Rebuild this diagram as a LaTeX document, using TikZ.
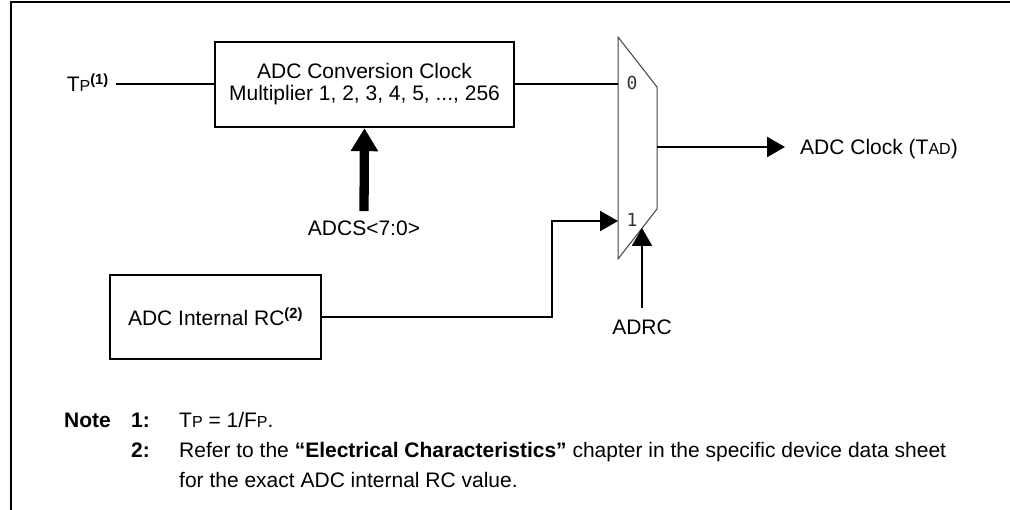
\documentclass[tikz,border=0pt]{standalone}
\usepackage{fontspec}
\setmainfont{Liberation Sans}
\newfontfamily\muxfont{DejaVu Sans Mono}
\usetikzlibrary{arrows.meta, positioning, calc}

\newcommand{\lowcap}[1]{{\fontsize{16}{16}\selectfont #1}}
\newcommand{\notemark}[1]{\textsuperscript{\bfseries(#1)}}

\tikzset{
  blockbox/.style={draw, line width=2.4pt, align=center, inner sep=0pt},
  sigline/.style={line width=2.5pt},
  sigarrow/.style={sigline, -{Triangle[length=18pt, width=20pt]}},
  busarrow/.style={line width=9.3pt, -{Triangle[length=23pt, width=26pt]}},
  notetext/.style={anchor=base west, inner sep=0pt},
  notekey/.style={notetext, font=\fontsize{21}{24}\selectfont\bfseries},
}

\begin{document}
\begin{tikzpicture}[x=1pt, y=-1pt, font=\fontsize{21}{22}\selectfont]
  \useasboundingbox (0,0) rectangle (1010,510);
  % frame
  \draw[line width=2.2pt] (11,510) -- (11,2) -- (1010,2);

  % clock multiplier and its inputs
  \node[blockbox, minimum width=299pt, minimum height=85pt] (mult) at (364.5,84.5)
    {ADC Conversion Clock\\Multiplier 1, 2, 3, 4, 5, ..., 256};
  \node[anchor=base east, inner sep=0pt] (tp) at (109,92) {T\lowcap{P}\notemark{1}};
  \coordinate (tpend) at (116,84);
  \draw[sigline] (tpend) -- (tpend -| mult.west);
  \node[anchor=base, inner sep=0pt] (adcs) at (364,236) {ADCS<7:0>};
  \draw[busarrow] ([yshift=10pt]adcs.north) -- (mult.south);

  % internal RC oscillator
  \node[blockbox, minimum width=211pt, minimum height=84pt] (rc) at (215.5,317)
    {ADC Internal RC\notemark{2}};

  % multiplexer
  \draw[line width=1pt, draw=black!75, fill=white]
    (618,37) -- (657,87) -- (657,209) -- (618,259) -- cycle;
  \coordinate (mux0) at (618,84);
  \coordinate (mux1) at (618,221);
  \coordinate (muxout) at (657,147);
  \coordinate (muxsel) at (642,228);
  \coordinate (bend) at (552,221);
  \node[font=\muxfont\fontsize{18}{18}\selectfont, text=black!80] (lbl0) at (632,83) {0};
  \node[font=\muxfont\fontsize{18}{18}\selectfont, text=black!80] (lbl1) at (632,220) {1};

  \draw[sigline] (mux0 -| mult.east) -- (mux0);
  \draw[sigarrow] (rc.east) -| (bend) -- (mux1);

  \node[anchor=base, inner sep=0pt] (adrc) at (642,335) {ADRC};
  \draw[sigarrow] ([yshift=12pt]adrc.north) -- (muxsel);

  \node[anchor=base west, inner sep=0pt] (clk) at (800,155) {ADC Clock (T\lowcap{AD})};
  \coordinate (clkin) at ([xshift=-15pt]clk.west);
  \draw[sigarrow] (muxout) -- (muxout -| clkin);

  % notes
  \node[notekey] (note) at (64,428) {Note};
  \node[notekey] (key1) at (131,428) {1:};
  \node[notetext] (txt1) at (179,428) {T\lowcap{P} = 1/F\lowcap{P}.};
  \node[notekey] (key2) at (131,458) {2:};
  \node[notetext] (txt2) at (179,458)
    {Refer to the \textbf{“Electrical Characteristics”} chapter in the specific device data sheet};
  \node[notetext] (txt3) at (179,488) {for the exact ADC internal RC value.};
\end{tikzpicture}
\end{document}
